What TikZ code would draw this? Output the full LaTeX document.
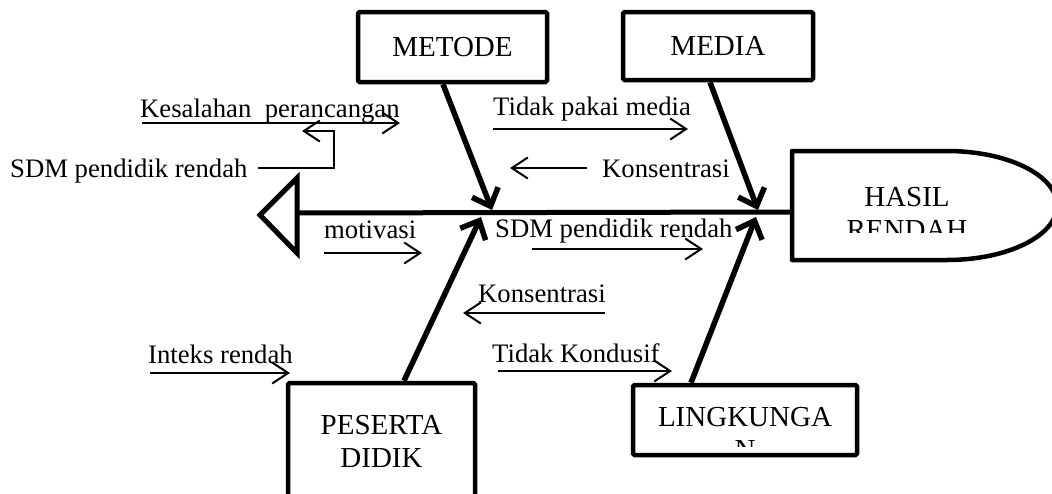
\documentclass[tikz,border=0pt]{standalone}
\usepackage{fontspec}
\setmainfont{Liberation Serif}
\usetikzlibrary{arrows.meta,calc}
\begin{document}
\begin{tikzpicture}[x=1pt,y=-1pt,
  box/.style={draw,line width=4.5pt,rounded corners=1.5pt,font=\fontsize{29}{33}\selectfont,align=center,inner sep=0pt},
  boxtext/.style={font=\fontsize{29}{33}\selectfont,align=center,inner sep=0pt},
  lbl/.style={font=\fontsize{26.7}{30}\selectfont,anchor=base west,inner sep=0pt},
  bone/.style={line width=5.5pt,-{Straight Barb[length=15pt,width=28pt]}},
  spine/.style={line width=5pt},
  thinarrow/.style={line width=2pt,-{Straight Barb[length=16pt,width=21pt]}}]
\clip (0,0) rectangle (1052,493);
\fill[white] (0,0) rectangle (1052,493);

% boxes
\node[box,minimum width=189pt,minimum height=70pt] (metode) at (452.5,47) {METODE};
\node[box,minimum width=190pt,minimum height=68pt] (media) at (718,46) {MEDIA};
\node[box,minimum width=187pt,minimum height=117pt] (peserta) at (381.5,441.5) {PESERTA\\DIDIK};
\node[box,minimum width=224pt,minimum height=70pt] (ling) at (745,420) {};
\begin{scope}
  \clip (636,388) rectangle (854,446);
  \node[boxtext] (lingtext) at (745,433.5) {LINGKUNGA\\N};
\end{scope}

% head
\coordinate (hasil) at (792,212);
\draw[line width=4.5pt,line join=round] (947,151) -- (792,151) -- (792,260) -- (947,260)
  arc[start angle=-90,end angle=90,x radius=110pt,y radius=54.5pt];
\begin{scope}
  \clip (795,154) rectangle (1040,232);
  \node[boxtext] (hasiltext) at (907,213.5) {HASIL\\RENDAH};
\end{scope}

% tail and spine
\coordinate (tail) at (297,213);
\draw[line width=5pt,line join=miter] (297,178) -- (260,215) -- (297,253) -- cycle;
\draw[spine] (tail) -- (hasil);

% bones
\coordinate (jm) at (492,210);
\coordinate (jd) at (758,210);
\coordinate (jp) at (481,217);
\coordinate (jl) at (756,217);
\draw[bone] ($(metode.south)+(-9.5,0)$) -- (jm);
\draw[bone] ($(media.south)+(-8,0)$) -- (jd);
\draw[bone] ($(peserta.north)+(22.5,0)$) -- (jp);
\draw[bone] ($(ling.north)+(-54,0)$) -- (jl);

% labels
\node[lbl] (l1) at (140,117) {Kesalahan\ \ perancangan};
\draw[thinarrow] (142,123) -- (400,123);

\node[lbl] (l2) at (10,177) {SDM pendidik rendah};
\draw[thinarrow] (258,168) -- (334,168) -- (334,131) -- (302,131);

\node[lbl] (l3) at (324,238) {motivasi};
\draw[thinarrow] (324,253) -- (422,253);

\node[lbl] (l4) at (493,115) {Tidak pakai media};
\draw[thinarrow] (493,129) -- (688,129);

\node[lbl] (l5) at (602,177) {Konsentrasi};
\draw[thinarrow] (587,168) -- (510,168);

\node[lbl] (l6) at (495,237) {SDM pendidik rendah};
\draw[thinarrow] (532,249) -- (703,249);

\node[lbl] (l7) at (478,302) {Konsentrasi};
\draw[thinarrow] (605,313) -- (463,313);

\node[lbl] (l8) at (492,362) {Tidak Kondusif};
\draw[thinarrow] (498,371) -- (672,371);

\node[lbl] (l9) at (148,363) {Inteks rendah};
\draw[thinarrow] (150,373) -- (290,373);
\end{tikzpicture}
\end{document}
